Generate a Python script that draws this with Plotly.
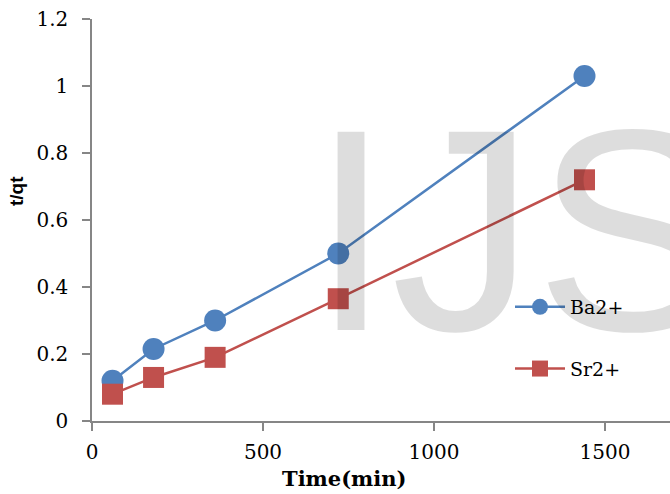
import plotly.graph_objects as go

time_min = [60, 180, 360, 720, 1440]
ba_tqt = [0.12, 0.215, 0.30, 0.50, 1.03]
sr_tqt = [0.08, 0.13, 0.19, 0.365, 0.72]
y_ticks = [0, 0.2, 0.4, 0.6, 0.8, 1, 1.2]
y_tick_text = ["0", "0.2", "0.4", "0.6", "0.8", "1", "1.2"]
x_ticks = [0, 500, 1000, 1500]

W, H = 670, 494
L, R, T, B = 92, 0, 19, 73
pw, ph = W - L - R, H - T - B

def px(xp):
    return (xp - L) / pw

def py(yp):
    return (H - B - yp) / ph

serif = "DejaVu Serif, Liberation Serif, serif"
sans = "Liberation Sans, DejaVu Sans, sans-serif"

fig = go.Figure()
fig.add_trace(go.Scatter(
    x=time_min, y=ba_tqt, name="Ba2+", mode="lines+markers",
    line=dict(color="#4F81BD", width=2.5),
    marker=dict(symbol="circle", size=22, color="#4F81BD", line=dict(width=0)),
    legendgroup="a",
))
fig.add_trace(go.Scatter(
    x=time_min, y=sr_tqt, name="Sr2+", mode="lines+markers",
    line=dict(color="#C0504D", width=2.5),
    marker=dict(symbol="square", size=21, color="#C0504D", line=dict(width=0)),
    legendgroup="b",
))

axis_common = dict(
    showgrid=False, zeroline=False, showline=True, linecolor="#868686", linewidth=1.5,
    ticks="outside", ticklen=8, tickcolor="#868686", tickwidth=1.5,
    tickfont=dict(family=serif, size=20, color="#000000"),
)
fig.update_xaxes(range=[0, 1690], tickvals=x_ticks, ticklabelstandoff=4, **axis_common)
fig.update_yaxes(range=[0, 1.2], tickvals=y_ticks, ticktext=y_tick_text, ticklabelstandoff=10, **axis_common)

fig.update_layout(
    width=W, height=H,
    margin=dict(l=L, r=R, t=T, b=B, pad=0),
    plot_bgcolor="white", paper_bgcolor="white",
    showlegend=True,
    legend=dict(
        x=px(510), y=py(288), xanchor="left", yanchor="top",
        font=dict(family=serif, size=19, color="#000000"),
        bgcolor="rgba(0,0,0,0)", tracegroupgap=34, traceorder="grouped",
        itemwidth=50,
    ),
    annotations=[
        dict(text="IJS", x=px(519), y=py(230), xref="paper", yref="paper",
             xanchor="center", yanchor="middle", showarrow=False,
             font=dict(family=sans, size=288, color="rgba(0,0,0,0.135)")),
        dict(text="<b>t/qt</b>", x=px(16), y=py(191), xref="paper", yref="paper",
             xanchor="center", yanchor="middle", textangle=-90, showarrow=False,
             font=dict(family=sans, size=19, color="#000000")),
        dict(text="<b>Time(min)</b>", x=px(344), y=py(479), xref="paper", yref="paper",
             xanchor="center", yanchor="middle", showarrow=False,
             font=dict(family=serif, size=21, color="#000000")),
    ],
)

fig.write_html("out.html", config={"displayModeBar": False},
               post_script="document.body.style.margin='0';document.body.style.overflow='hidden';")
